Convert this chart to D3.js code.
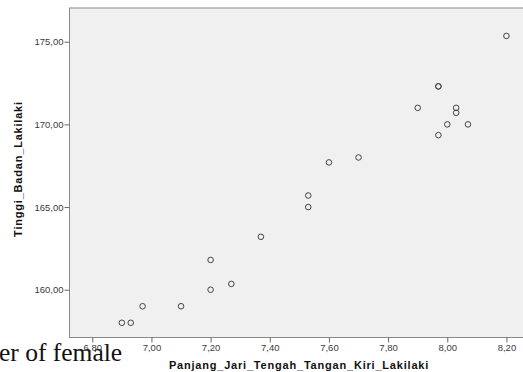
<!DOCTYPE html>
<html>
<head>
<meta charset="utf-8">
<script src="https://cdn.jsdelivr.net/npm/d3@7"></script>
<style>
  body { margin: 0; background: #fff; overflow: hidden; }
  .tick text { font-family: Arial, "Liberation Sans", sans-serif; font-size: 9.5px; fill: #3a3a3a; }
  .tick line { stroke: #666; }
  .title { font-family: Arial, "Liberation Sans", sans-serif; font-weight: bold; font-size: 11px; letter-spacing: 0.8px; fill: #111; }
</style>
</head>
<body>
<div id="chart"></div>
<script>
// Panjang jari tengah (x) vs tinggi badan (y)
var jari = [8.20, 7.97, 7.97, 7.90, 8.03, 8.03, 8.00, 8.07, 7.97, 7.70, 7.60,
            7.53, 7.53, 7.37, 7.20, 7.27, 7.20, 6.97, 7.10, 6.90, 6.93];
var tinggi = [175.35, 172.3, 172.3, 171.0, 171.0, 170.7, 170.0, 170.0, 169.35, 168.0, 167.7,
              165.7, 165.0, 163.2, 161.8, 160.35, 160.0, 159.0, 159.0, 158.0, 158.0];
var xTicks = [6.8, 7.0, 7.2, 7.4, 7.6, 7.8, 8.0, 8.2];
var yTicks = [160, 165, 170, 175];

w = 523;
h = 372;
var marges = {left: 69.5, right: -8, top: 8, bottom: 34.5};
var graf_w = w - marges.left - marges.right;
var graf_h = h - marges.top - marges.bottom;

var svg = d3.select("#chart")
  .append("svg")
    .attr("width", w)
    .attr("height", h);

// leftover text from the page the chart was cut out of
svg.append("text")
  .attr("x", -1)
  .attr("y", 361)
  .attr("font-family", "'Liberation Serif', 'Times New Roman', serif")
  .attr("font-size", 25.5)
  .attr("fill", "#111")
  .text("er of female");

var g = svg.append("g")
  .attr("transform", "translate(" + marges.left + "," + marges.top + ")");

var x = d3.scaleLinear().domain([6.723, 8.283]).range([0, graf_w]);
var y = d3.scaleLinear().domain([157.11, 177.04]).range([graf_h, 0]);

g.append("rect")
  .attr("width", graf_w)
  .attr("height", graf_h)
  .attr("fill", "#f0f0f0")
  .attr("stroke", "#8a8a8a")
  .attr("stroke-width", 1);

var fmt = function(d) { return d3.format(".2f")(d).replace(".", ","); };

// <-- X AXIS -------------
var xa = g.append("g")
  .attr("transform", "translate(0," + graf_h + ")")
  .call(d3.axisBottom(x).tickValues(xTicks).tickSize(5).tickPadding(2).tickFormat(fmt));
xa.select(".domain").remove();
// -- X AXIS ------------->

// <-- Y AXIS -------------
var ya = g.append("g")
  .call(d3.axisLeft(y).tickValues(yTicks).tickSize(5).tickPadding(1).tickFormat(fmt));
ya.select(".domain").remove();
// -- Y AXIS ------------->

// points
g.append("g")
  .selectAll("circle")
  .data(jari)
  .enter().append("circle")
    .attr("cx", function(d) { return x(d); })
    .attr("cy", function(d, i) { return y(tinggi[i]); })
    .attr("r", 2.8)
    .attr("fill", "none")
    .attr("stroke", "#444")
    .attr("stroke-width", 1);

svg.append("text")
  .attr("class", "title")
  .attr("x", 299)
  .attr("y", 369)
  .attr("text-anchor", "middle")
  .text("Panjang_Jari_Tengah_Tangan_Kiri_Lakilaki");

svg.append("text")
  .attr("class", "title")
  .attr("transform", "translate(22,169) rotate(-90)")
  .attr("text-anchor", "middle")
  .text("Tinggi_Badan_Lakilaki");
</script>
</body>
</html>
